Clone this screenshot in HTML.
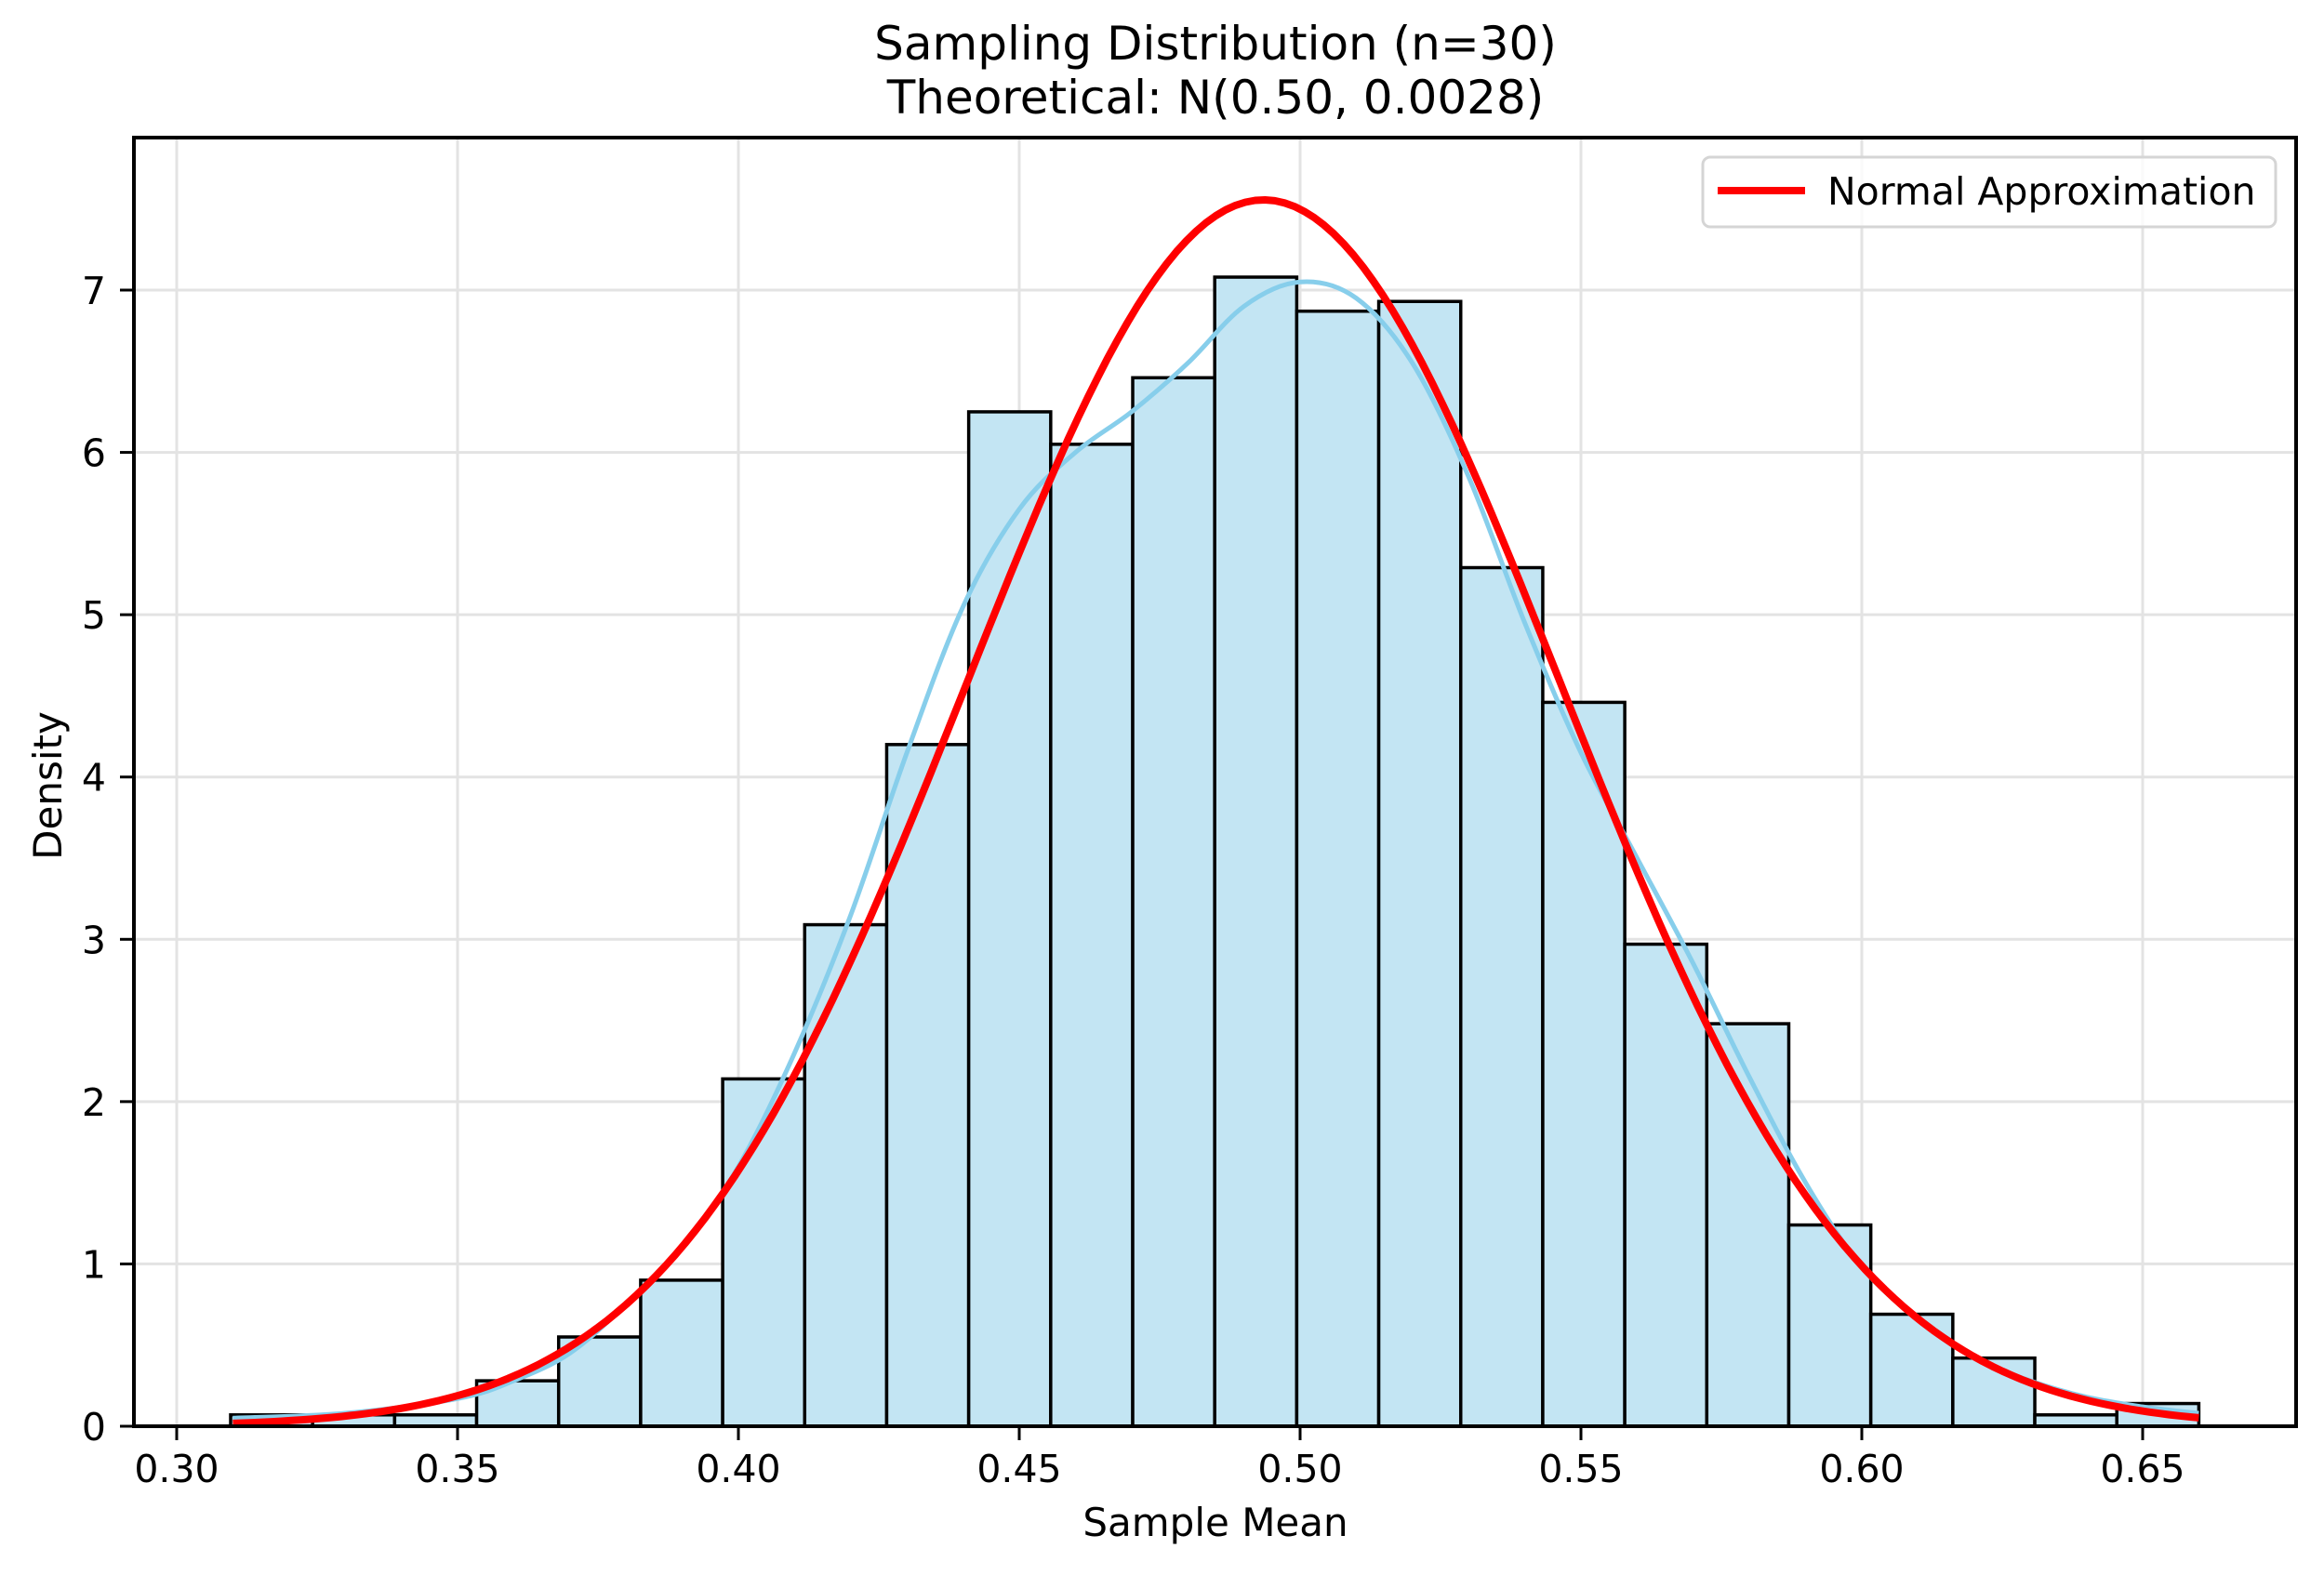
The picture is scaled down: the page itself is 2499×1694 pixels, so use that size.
<!DOCTYPE html>
<html><head><meta charset="utf-8"><style>
html,body{margin:0;padding:0;background:#fff;}
svg{display:block;font-family:"DejaVu Sans","Liberation Sans",sans-serif;}
</style></head><body>
<svg id="chart" width="2499" height="1694" viewBox="0 0 2499 1694">
<rect x="0" y="0" width="2499" height="1694" fill="#fff"/>
<text x="1307" y="64" font-size="50" text-anchor="middle">Sampling Distribution (n=30)</text>
<text x="1307" y="122" font-size="50" text-anchor="middle">Theoretical: N(0.50, 0.0028)</text>
<g id="grid"></g>
<g id="bars"></g>
<g id="lines"></g>
<rect x="144" y="148" width="2325" height="1386" fill="none" stroke="#000" stroke-width="4"/>
<g id="ticks"></g>
<text x="1307" y="1652" font-size="42" text-anchor="middle">Sample Mean</text>
<text x="0" y="0" font-size="42" text-anchor="middle" transform="translate(66,845) rotate(-90)">Density</text>
<g>
<rect x="1831" y="169" width="616" height="75" rx="8" fill="#fff" fill-opacity="0.8" stroke="#d5d5d5" stroke-width="3"/>
<line x1="1847" y1="205" x2="1941" y2="205" stroke="#ff0000" stroke-width="8"/>
<text x="1965" y="220" font-size="41">Normal Approximation</text>
</g>
</svg>
<script>
const binStart = 0.3096;
const binWidth = 0.0146;
const binDensity = [0.07,0.07,0.07,0.28,0.55,0.90,2.14,3.09,4.20,6.25,6.05,6.46,7.08,6.87,6.93,5.29,4.46,2.97,2.48,1.24,0.69,0.42,0.07,0.14];
const kdeX = [0.31,0.33,0.35,0.36,0.37,0.38,0.39,0.40,0.41,0.42,0.43,0.44,0.45,0.46,0.47,0.48,0.49,0.50,0.51,0.52,0.53,0.54,0.55,0.56,0.57,0.58,0.59,0.60,0.61,0.62,0.63,0.64,0.65,0.66];
const kdeY = [0.05,0.08,0.17,0.28,0.45,0.75,1.10,1.60,2.30,3.15,4.15,5.05,5.65,6.00,6.25,6.55,6.90,7.05,6.95,6.55,5.85,4.95,4.15,3.50,2.85,2.15,1.50,0.98,0.66,0.42,0.28,0.18,0.12,0.08];
const normalMean = 0.4935;
const normalSd = 0.0528;
const normalRange = [0.31, 0.66];
const xTicks = [0.30,0.35,0.40,0.45,0.50,0.55,0.60,0.65];
const xTickLabels = ["0.30","0.35","0.40","0.45","0.50","0.55","0.60","0.65"];
const yTicks = [0,1,2,3,4,5,6,7];
const yTickLabels = ["0","1","2","3","4","5","6","7"];

const NS = "http://www.w3.org/2000/svg";
const X0 = 190, XV0 = 0.30, XS = 6040;
const Y0 = 1534, YS = 174.57;
function sx(v){ return X0 + (v - XV0) * XS; }
function sy(v){ return Y0 - v * YS; }
function mk(tag, attrs, parent){ const e = document.createElementNS(NS, tag); for (const k in attrs) e.setAttribute(k, attrs[k]); parent.appendChild(e); return e; }

const grid = document.getElementById('grid');
const ticks = document.getElementById('ticks');
xTicks.forEach((v,i) => {
  const g = mk('line', {x1:sx(v), x2:sx(v), y1:148, y2:1534, stroke:'#e3e3e3', 'stroke-width':3}, grid);
  
  
  const t = mk('line', {x1:sx(v), x2:sx(v), y1:1534, y2:1549, stroke:'#000', 'stroke-width':3}, ticks);
  
  
  const l = mk('text', {x:sx(v), y:1594, 'font-size':41, 'text-anchor':'middle'}, ticks);
  l.textContent = xTickLabels[i];
  
  
});
yTicks.forEach((v,i) => {
  const g = mk('line', {x1:144, x2:2469, y1:sy(v), y2:sy(v), stroke:'#e3e3e3', 'stroke-width':3}, grid);
  
  
  const t = mk('line', {x1:129, x2:144, y1:sy(v), y2:sy(v), stroke:'#000', 'stroke-width':3}, ticks);
  
  
  const l = mk('text', {x:114, y:sy(v)+15, 'font-size':41, 'text-anchor':'end'}, ticks);
  l.textContent = yTickLabels[i];
  
  
});

const bars = document.getElementById('bars');
binDensity.forEach((d,i) => {
  const a = binStart + i*binWidth, b = a + binWidth;
  const r = mk('rect', {x:sx(a), y:sy(d), width:sx(b)-sx(a), height:sy(0)-sy(d), fill:'#c3e5f3', stroke:'#000', 'stroke-width':3.5}, bars);
  
  
});

const lines = document.getElementById('lines');
const pts = kdeX.map((v,i) => [sx(v), sy(kdeY[i])]);
let kd = 'M' + pts[0][0].toFixed(1) + ',' + pts[0][1].toFixed(1);
for (let i = 0; i < pts.length - 1; i++) {
  const p0 = pts[Math.max(0,i-1)], p1 = pts[i], p2 = pts[i+1], p3 = pts[Math.min(pts.length-1,i+2)];
  const c1x = p1[0] + (p2[0]-p0[0])/6, c1y = p1[1] + (p2[1]-p0[1])/6;
  const c2x = p2[0] - (p3[0]-p1[0])/6, c2y = p2[1] - (p3[1]-p1[1])/6;
  kd += 'C' + c1x.toFixed(1) + ',' + c1y.toFixed(1) + ' ' + c2x.toFixed(1) + ',' + c2y.toFixed(1) + ' ' + p2[0].toFixed(1) + ',' + p2[1].toFixed(1);
}
const kde = mk('path', {d:kd, fill:'none', stroke:'#87ceeb', 'stroke-width':5, 'stroke-linejoin':'round'}, lines);



let nd = '';
const N = 200;
for (let i = 0; i <= N; i++) {
  const v = normalRange[0] + (normalRange[1]-normalRange[0]) * i / N;
  const z = (v - normalMean) / normalSd;
  const d = Math.exp(-0.5*z*z) / (normalSd*Math.sqrt(2*Math.PI));
  nd += (i ? 'L' : 'M') + sx(v).toFixed(1) + ',' + sy(d).toFixed(1);
}
const norm = mk('path', {d:nd, fill:'none', stroke:'#ff0000', 'stroke-width':8, 'stroke-linejoin':'round'}, lines);


</script>
</body></html>
